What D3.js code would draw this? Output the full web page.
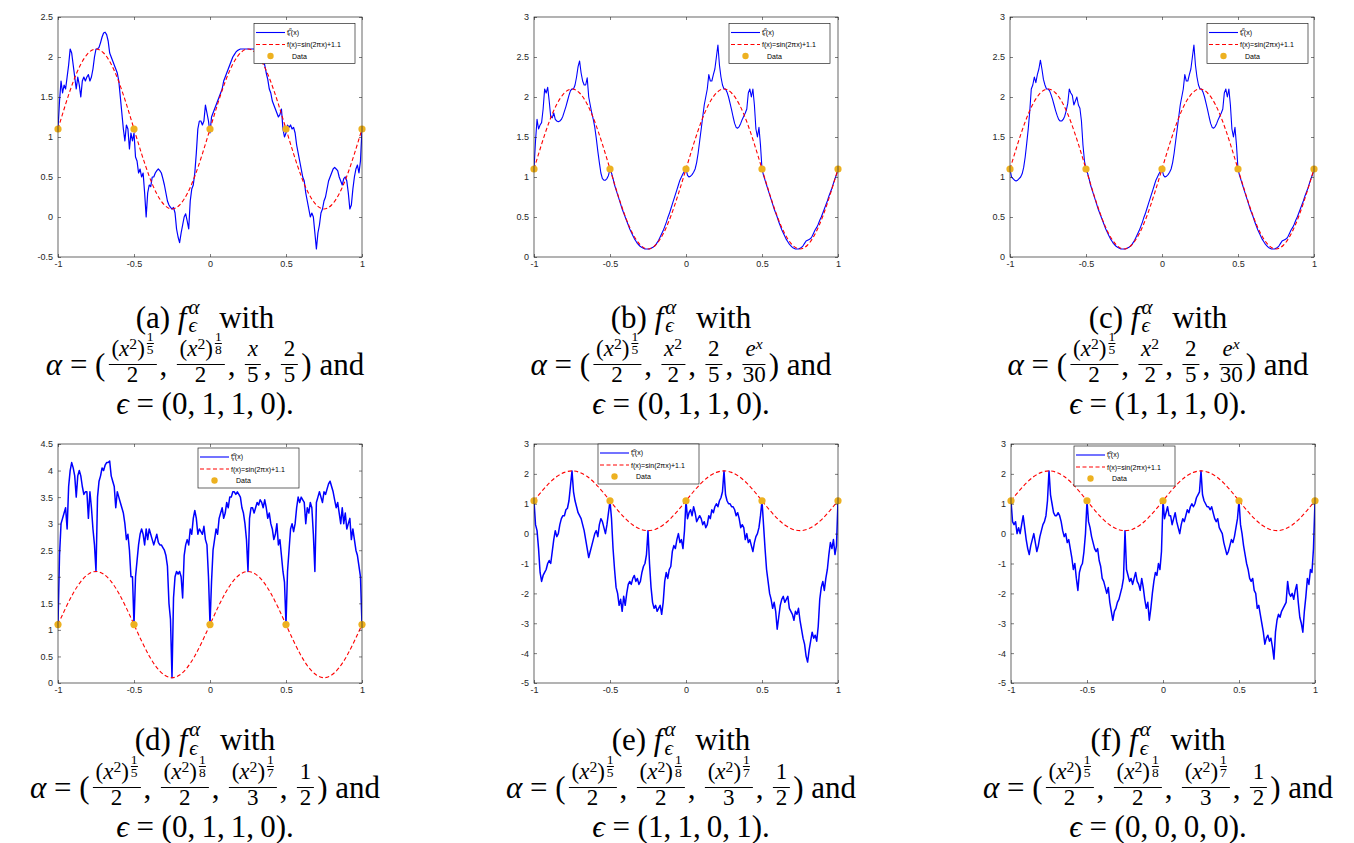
<!DOCTYPE html>
<html>
<head>
<meta charset="utf-8">
<script src="https://cdn.jsdelivr.net/npm/d3@7"></script>
<style>
  body { margin: 0; background: #fff; width: 1354px; height: 843px; overflow: hidden; position: relative; }
  svg { position: absolute; left: 0; top: 0; }
  .cap { position: absolute; transform: translateX(-50%); font-family: "Liberation Serif", serif;
         font-size: 31px; line-height: 31px; white-space: nowrap; color: #000; }
  .cap i { font-style: italic; }
  .bl { display: inline-block; width: 0; height: 0; }
  .fr { display: inline-block; text-align: center; vertical-align: -7px; font-size: 23px; margin: 0 3px; }
  .fr > span { display: block; }
  .fr .nu { line-height: 23px; border-bottom: 1px solid #000; padding: 0 3px 4px; }
  .fr .de { line-height: 19px; }
  .fr sup { font-size: 0.68em; vertical-align: 0.45em; line-height: 0; }
  .sf { display: inline-block; font-size: 13.5px; vertical-align: 2px; margin-left: 2px; text-align: center; }
  .sf > span { display: block; line-height: 12px; }
  .sf > span:first-child { border-bottom: 0.8px solid #000; }
  .ss { display: inline-block; position: relative; width: 16px; height: 0; margin: 0 8px 0 1px; }
  .ss > i { position: absolute; left: 1px; font-size: 21px; line-height: 21px; }
  .ss .up { bottom: 10px; }
  .ss .dn { bottom: -8.5px; }
</style>
</head>
<body>
<script>
// x grid of the blue curves: -1 .. 1 step 0.01 (201 values each)
const blueA = [
  1.1,1.45,1.7,1.55,1.65,1.6,1.75,1.9,2.1,2.05,
  1.9,1.75,1.6,1.75,1.65,1.5,1.7,1.75,1.7,1.75,
  1.78,1.7,1.75,1.85,2.0,2.1,2.1,2.12,2.18,2.25,
  2.3,2.31,2.28,2.2,2.05,2.0,1.95,1.9,1.85,1.8,
  1.7,1.5,1.3,1.1,0.95,1.15,1.1,0.85,1.05,0.95,
  1.05,0.75,0.7,0.55,0.6,0.5,0.55,0.3,0.0,0.3,
  0.4,0.38,0.5,0.5,0.55,0.58,0.6,0.58,0.55,0.48,
  0.4,0.3,0.2,0.15,0.12,0.1,0.12,0.05,-0.15,-0.25,
  -0.32,-0.2,-0.1,0.0,0.04,-0.05,-0.15,0.2,0.35,0.4,
  0.55,0.8,1.1,1.2,1.2,1.15,1.2,1.4,1.3,1.2,
  1.05,1.25,1.3,1.35,1.4,1.45,1.5,1.55,1.6,1.7,
  1.75,1.8,1.85,1.9,1.95,2.0,2.03,2.06,2.08,2.09,
  2.1,2.1,2.1,2.1,2.1,2.1,2.1,2.1,2.1,2.1,
  2.1,2.1,2.08,2.06,2.02,1.95,1.9,1.8,1.72,1.6,
  1.55,1.45,1.4,1.35,1.3,1.25,1.28,1.35,1.1,1.0,
  1.05,1.15,1.12,1.15,1.1,1.12,1.05,0.9,0.8,0.7,
  0.6,0.5,0.45,0.3,0.2,0.1,0.0,0.05,0.0,-0.2,
  -0.4,-0.2,-0.1,0.05,0.1,0.2,0.25,0.35,0.45,0.5,
  0.55,0.6,0.62,0.6,0.58,0.5,0.45,0.4,0.48,0.5,
  0.45,0.3,0.1,0.15,0.35,0.5,0.6,0.65,0.55,0.7,
  1.1
];
const blueB = [
  1.1,1.45,1.72,1.6,1.65,1.68,1.85,2.1,2.05,2.12,
  1.95,1.75,1.74,1.8,1.72,1.7,1.69,1.7,1.72,1.76,
  1.82,1.88,1.95,2.02,2.08,2.1,2.1,2.15,2.25,2.38,
  2.45,2.3,2.2,2.15,2.15,2.24,2.0,1.9,1.8,1.72,
  1.62,1.48,1.32,1.18,1.05,0.98,0.96,0.96,0.98,1.02,
  1.1,1.05,0.98,0.9,0.84,0.78,0.72,0.66,0.6,0.55,
  0.5,0.45,0.4,0.35,0.31,0.27,0.23,0.2,0.17,0.15,
  0.13,0.12,0.11,0.1,0.1,0.1,0.1,0.11,0.12,0.13,
  0.15,0.18,0.21,0.25,0.29,0.33,0.38,0.43,0.49,0.54,
  0.6,0.66,0.72,0.78,0.84,0.9,0.96,1.0,1.04,1.07,
  1.1,1.02,1.0,1.01,1.03,1.06,1.1,1.18,1.3,1.45,
  1.6,1.75,1.9,2.0,2.1,2.28,2.2,2.2,2.28,2.35,
  2.5,2.65,2.4,2.25,2.15,2.1,2.1,2.06,2.0,1.92,
  1.84,1.75,1.67,1.62,1.61,1.63,1.67,1.72,1.76,1.8,
  1.85,2.05,2.1,2.0,2.1,1.9,1.6,1.5,1.62,1.4,
  1.1,1.02,0.96,0.9,0.84,0.78,0.72,0.66,0.6,0.55,
  0.5,0.44,0.39,0.34,0.3,0.26,0.22,0.19,0.16,0.14,
  0.12,0.11,0.1,0.1,0.1,0.11,0.12,0.14,0.17,0.2,
  0.21,0.22,0.23,0.26,0.3,0.34,0.37,0.41,0.46,0.5,
  0.55,0.6,0.65,0.7,0.76,0.81,0.86,0.92,0.98,1.03,
  1.1
];
const blueC = [
  1.1,1.0,0.98,0.96,0.95,0.96,0.98,1.0,1.04,1.12,
  1.25,1.42,1.6,1.82,2.1,2.15,2.25,2.18,2.28,2.35,
  2.46,2.35,2.22,2.15,2.1,2.1,2.08,2.03,1.97,1.9,
  1.83,1.77,1.72,1.7,1.7,1.72,1.76,1.83,1.92,2.1,
  2.05,2.02,1.9,1.95,2.0,1.9,1.86,1.7,1.4,1.2,
  1.1,1.05,0.98,0.9,0.84,0.78,0.72,0.66,0.6,0.55,
  0.5,0.45,0.4,0.35,0.31,0.27,0.23,0.2,0.17,0.15,
  0.13,0.12,0.11,0.1,0.1,0.1,0.1,0.11,0.12,0.13,
  0.15,0.18,0.21,0.25,0.29,0.33,0.38,0.43,0.49,0.54,
  0.6,0.66,0.72,0.78,0.84,0.9,0.96,1.0,1.04,1.07,
  1.1,1.02,1.0,1.01,1.03,1.06,1.1,1.18,1.3,1.45,
  1.6,1.75,1.9,2.0,2.1,2.28,2.2,2.2,2.28,2.35,
  2.5,2.65,2.4,2.25,2.15,2.1,2.1,2.06,2.0,1.92,
  1.84,1.75,1.67,1.62,1.61,1.63,1.67,1.72,1.76,1.8,
  1.85,2.05,2.1,2.0,2.1,1.9,1.6,1.5,1.62,1.4,
  1.1,1.02,0.96,0.9,0.84,0.78,0.72,0.66,0.6,0.55,
  0.5,0.44,0.39,0.34,0.3,0.26,0.22,0.19,0.16,0.14,
  0.12,0.11,0.1,0.1,0.1,0.11,0.12,0.14,0.17,0.2,
  0.21,0.22,0.23,0.26,0.3,0.34,0.37,0.41,0.46,0.5,
  0.55,0.6,0.65,0.7,0.76,0.81,0.86,0.92,0.98,1.03,
  1.1
];
const blueD = [
  1.1,2.4,3.0,3.1,3.2,3.3,2.9,3.7,4.0,4.15,
  4.05,3.9,3.5,3.9,4.0,3.9,3.7,3.55,3.6,3.6,
  3.1,3.6,3.3,2.9,2.6,2.1,3.5,3.8,3.9,4.05,
  4.0,4.1,4.15,4.15,4.18,3.9,3.8,3.7,3.3,3.6,
  3.5,3.4,3.3,3.2,3.0,2.7,2.8,2.5,2.0,2.0,
  1.1,2.0,2.3,2.6,2.8,2.9,2.8,2.6,2.9,2.7,
  2.9,2.8,2.7,2.6,2.7,2.8,2.65,2.6,2.6,2.55,
  2.5,2.4,2.2,1.5,1.2,0.1,1.6,2.0,2.1,2.05,
  2.1,2.0,1.6,2.4,2.6,2.7,2.6,2.9,2.8,3.1,
  3.25,3.1,2.8,2.9,2.85,2.8,2.95,2.7,2.6,2.0,
  1.1,1.9,2.5,2.7,2.9,2.8,3.1,3.2,3.3,3.1,
  3.2,3.4,3.3,3.5,3.5,3.6,3.6,3.55,3.6,3.55,
  3.5,3.3,3.2,3.0,2.7,2.1,3.1,3.3,3.3,3.2,
  3.3,3.4,3.35,3.45,3.4,3.3,3.45,3.3,3.1,3.2,
  3.0,2.9,2.7,2.8,3.0,2.6,2.7,2.4,2.1,1.9,
  1.1,2.1,2.5,2.9,3.0,2.85,3.0,3.3,3.5,3.4,
  3.5,3.45,3.4,3.0,3.3,3.2,3.4,3.3,2.8,2.1,
  3.4,3.5,3.6,3.5,3.4,3.6,3.55,3.65,3.75,3.8,
  3.7,3.6,3.45,3.3,3.4,3.2,3.0,3.3,3.0,3.2,
  2.9,3.0,3.1,2.7,2.9,2.7,2.5,2.4,2.2,2.0,
  1.1
];
const blueE = [
  1.1,0.3,0.1,-0.5,-1.3,-1.6,-1.4,-1.3,-1.2,-1.0,
  -0.9,-1.0,-0.6,-0.2,0.1,-0.1,0.0,0.3,0.5,0.6,
  0.6,0.8,0.85,1.1,1.6,2.1,1.4,1.1,0.9,0.7,
  0.6,0.5,0.3,0.1,-0.2,-0.5,-0.8,-0.6,-0.4,-0.2,
  0.0,0.1,-0.1,0.3,0.5,0.4,0.2,0.0,0.3,0.7,
  1.1,0.5,-0.5,-1.2,-1.8,-2.0,-2.4,-2.2,-2.6,-2.1,
  -2.4,-2.0,-1.7,-1.6,-1.7,-1.5,-1.4,-1.6,-1.5,-1.7,
  -1.6,-1.3,-1.1,-1.0,-0.7,0.1,-1.0,-1.8,-2.3,-2.5,
  -2.4,-2.6,-2.5,-2.4,-2.7,-2.3,-1.6,-1.3,-1.5,-1.2,
  -1.1,-0.6,-0.4,-0.5,-0.2,0.0,-0.3,-0.2,-0.5,0.1,
  1.1,0.5,0.7,0.8,0.6,0.9,0.7,0.4,0.5,0.6,
  0.5,0.3,0.4,0.2,0.3,0.6,0.5,0.8,0.7,0.9,
  1.0,0.9,1.1,1.2,1.4,2.1,1.3,1.1,1.0,1.0,
  0.9,0.9,0.8,0.6,0.7,0.5,0.2,0.3,0.2,-0.2,
  0.0,-0.3,-0.2,-0.4,-0.6,-0.3,-0.1,0.0,0.2,0.6,
  1.1,0.3,-0.5,-1.2,-1.6,-2.0,-2.2,-2.5,-2.3,-2.6,
  -3.2,-2.8,-2.4,-2.2,-2.1,-2.3,-2.2,-2.1,-2.5,-2.6,
  -2.7,-2.9,-2.6,-2.7,-2.5,-2.9,-3.2,-3.5,-3.7,-4.1,
  -4.3,-3.9,-3.6,-3.3,-3.5,-3.4,-3.6,-3.1,-2.2,-1.8,
  -1.6,-1.9,-1.5,-1.2,-0.7,-0.3,-0.5,-0.2,-0.7,-0.4,
  1.1
];
const blueF = [
  1.1,0.4,0.3,0.4,0.0,0.2,0.0,0.3,0.6,0.2,
  -0.2,-0.5,-0.7,-0.4,-0.2,0.0,-0.3,-0.6,-0.4,-0.1,
  0.1,0.3,0.4,0.6,1.1,2.1,1.3,1.0,0.7,0.6,
  0.6,0.7,0.6,0.4,0.1,-0.1,0.0,-0.3,-0.2,-0.5,
  -0.8,-1.2,-1.0,-1.5,-1.9,-1.3,-1.1,-1.0,-0.6,0.0,
  1.1,0.4,0.2,-0.1,-0.3,-0.5,-0.6,-0.5,-0.9,-1.1,
  -1.5,-1.6,-1.8,-2.0,-1.8,-2.3,-2.6,-2.9,-2.6,-2.5,
  -2.3,-2.2,-2.0,-1.8,-1.5,0.1,-1.2,-1.4,-1.6,-1.5,
  -1.7,-1.5,-1.3,-1.6,-1.7,-1.9,-1.5,-1.8,-2.2,-2.5,
  -2.3,-2.9,-2.5,-2.0,-1.6,-1.3,-1.4,-1.0,-1.2,-0.6,
  1.1,0.5,0.7,0.9,0.6,0.6,0.3,0.5,0.7,0.4,
  0.2,0.0,0.3,0.5,0.4,0.6,0.8,0.7,0.9,1.0,
  0.9,1.0,1.2,1.3,1.4,2.1,1.3,1.1,1.0,0.9,
  0.9,0.8,0.9,0.7,0.5,0.4,0.5,0.2,0.1,0.0,
  -0.3,-0.5,-0.7,-0.6,-0.4,-0.2,-0.3,-0.1,0.2,0.5,
  1.1,0.3,0.0,-0.4,-0.7,-1.0,-1.2,-1.5,-1.6,-1.5,
  -1.9,-2.0,-2.5,-2.4,-2.7,-3.0,-3.3,-3.7,-3.5,-3.4,
  -3.6,-3.5,-3.8,-4.2,-3.3,-2.9,-2.7,-2.8,-2.6,-2.5,
  -2.4,-2.3,-1.6,-2.0,-2.1,-2.0,-2.2,-1.9,-1.7,-2.3,
  -2.8,-3.0,-3.3,-2.6,-2.1,-1.5,-1.7,-1.2,-1.3,-0.5,
  1.1
];

// red dashed target curve, read every 0.05 from -1 to 1
const redY = [1.1,1.41,1.69,1.91,2.05,2.1,2.05,1.91,1.69,1.41,
              1.1,0.79,0.51,0.29,0.15,0.1,0.15,0.29,0.51,0.79,
              1.1,1.41,1.69,1.91,2.05,2.1,2.05,1.91,1.69,1.41,
              1.1,0.79,0.51,0.29,0.15,0.1,0.15,0.29,0.51,0.79,1.1];

const dataX = [-1, -0.5, 0, 0.5, 1];
const dataY = [1.1, 1.1, 1.1, 1.1, 1.1];

const xTicks = [-1, -0.5, 0, 0.5, 1];
const yTicksA = [-0.5, 0, 0.5, 1, 1.5, 2, 2.5];
const yTicksB = [0, 0.5, 1, 1.5, 2, 2.5, 3];
const yTicksD = [0, 0.5, 1, 1.5, 2, 2.5, 3, 3.5, 4, 4.5];
const yTicksE = [-5, -4, -3, -2, -1, 0, 1, 2, 3];

const labels = ['(a)', '(b)', '(c)', '(d)', '(e)', '(f)'];
const epsilons = ['(0, 1, 1, 0).', '(0, 1, 1, 0).', '(1, 1, 1, 0).', '(0, 1, 1, 0).', '(1, 1, 0, 1).', '(0, 0, 0, 0).'];

const panels = [
  { blue: blueA, yDom: [-0.5, 2.5], yTicks: yTicksA, left: 58,   top: 17,  h: 240, lw: 1.2, leg: [196, 6.5] },
  { blue: blueB, yDom: [0, 3],      yTicks: yTicksB, left: 534,  top: 17,  h: 240, lw: 1.1, leg: [195, 6.5] },
  { blue: blueC, yDom: [0, 3],      yTicks: yTicksB, left: 1010, top: 17,  h: 240, lw: 1.1, leg: [197, 6.5] },
  { blue: blueD, yDom: [0, 4.5],    yTicks: yTicksD, left: 58,   top: 444, h: 239, lw: 1.5, leg: [140, 4] },
  { blue: blueE, yDom: [-5, 3],     yTicks: yTicksE, left: 534,  top: 444, h: 239, lw: 1.5, leg: [64, 0] },
  { blue: blueF, yDom: [-5, 3],     yTicks: yTicksE, left: 1011, top: 444, h: 239, lw: 1.5, leg: [63, 2] }
];
const W = 304;

const svg = d3.select('body').append('svg').attr('width', 1354).attr('height', 843);
const fmt = d => String(d);
const axisCol = '#262626';

panels.forEach((p, k) => {
  const g = svg.append('g').attr('transform', `translate(${p.left},${p.top})`);
  const x = d3.scaleLinear().domain([-1, 1]).range([0, W]);
  const y = d3.scaleLinear().domain(p.yDom).range([p.h, 0]);

  g.append('clipPath').attr('id', 'clip' + k)
    .append('rect').attr('width', W).attr('height', p.h);

  const plot = g.append('g').attr('clip-path', `url(#clip${k})`);

  // blue fractal curve
  plot.append('path')
    .datum(p.blue)
    .attr('fill', 'none')
    .attr('stroke', '#0000ff')
    .attr('stroke-width', p.lw)
    .attr('stroke-linejoin', 'round')
    .attr('d', d3.line().x((d, i) => x(-1 + i * 0.01)).y(d => y(d)));

  // red dashed sine
  plot.append('path')
    .datum(redY)
    .attr('fill', 'none')
    .attr('stroke', '#ff0000')
    .attr('stroke-width', 1.1)
    .attr('stroke-dasharray', '4,2.5')
    .attr('d', d3.line().curve(d3.curveNatural).x((d, i) => x(-1 + i * 0.05)).y(d => y(d)));

  // data points
  g.selectAll('.dot').data(dataX).enter().append('circle')
    .attr('cx', d => x(d))
    .attr('cy', (d, i) => y(dataY[i]))
    .attr('r', 3.6)
    .attr('fill', '#edb120');

  // axes, ticks inside on all four sides
  const ax = (gen, tx, ty, lab) => {
    const a = g.append('g').attr('transform', `translate(${tx},${ty})`).call(gen);
    a.select('.domain').remove();
    a.selectAll('line').attr('stroke', axisCol).attr('stroke-width', 0.6);
    a.selectAll('text').attr('fill', axisCol).style('font-family', 'Liberation Sans, Arial, sans-serif').style('font-size', '9px');
    if (!lab) a.selectAll('text').remove();
  };
  ax(d3.axisBottom(x).tickValues(xTicks).tickSize(-3).tickPadding(4).tickFormat(fmt), 0, p.h, true);
  ax(d3.axisTop(x).tickValues(xTicks).tickSize(-3).tickFormat(''), 0, 0, false);
  ax(d3.axisLeft(y).tickValues(p.yTicks).tickSize(-3).tickPadding(5).tickFormat(fmt), 0, 0, true);
  ax(d3.axisRight(y).tickValues(p.yTicks).tickSize(-3).tickFormat(''), W, 0, false);

  g.append('rect').attr('width', W).attr('height', p.h)
    .attr('fill', 'none').attr('stroke', axisCol).attr('stroke-width', 0.7);

  // legend
  const lg = g.append('g').attr('transform', `translate(${p.leg[0]},${p.leg[1]})`)
    .style('font-family', 'Liberation Sans, Arial, sans-serif').style('font-size', '7px');
  lg.append('rect').attr('width', 101).attr('height', 40)
    .attr('fill', '#fff').attr('stroke', axisCol).attr('stroke-width', 0.7);
  lg.append('line').attr('x1', 2).attr('x2', 31).attr('y1', 9).attr('y2', 9)
    .attr('stroke', '#0000ff').attr('stroke-width', 1.1);
  lg.append('line').attr('x1', 2).attr('x2', 31).attr('y1', 21).attr('y2', 21)
    .attr('stroke', '#ff0000').attr('stroke-width', 1.1).attr('stroke-dasharray', '4,2.5');
  lg.append('circle').attr('cx', 16.5).attr('cy', 32.5).attr('r', 3.2).attr('fill', '#edb120');
  const t1 = lg.append('text').attr('x', 33).attr('y', 11).attr('fill', '#000');
  t1.append('tspan').text('f');
  t1.append('tspan').attr('font-size', '4.5px').attr('dy', -3.4).text('α');
  t1.append('tspan').attr('font-size', '4.5px').attr('dx', -3.3).attr('dy', 5.2).text('ϵ');
  t1.append('tspan').attr('dy', -1.8).attr('dx', 0.6).text('(x)');
  lg.append('text').attr('x', 33).attr('y', 23.5).attr('fill', '#000').text('f(x)=sin(2πx)+1.1');
  lg.append('text').attr('x', 38).attr('y', 35).attr('fill', '#000').text('Data');
});

// captions
const pw = (p, q) => `(<i>x</i><sup>2</sup>)<span class="sf"><span>${p}</span><span>${q}</span></span>`;
const fr = (n, d) => `<span class="fr"><span class="nu">${n}</span><span class="de">${d}</span></span>`;
const alphaSets = [
  [fr(pw(1, 5), 2), fr(pw(1, 8), 2), fr('<i>x</i>', 5), fr(2, 5)],
  [fr(pw(1, 5), 2), fr('<i>x</i><sup>2</sup>', 2), fr(2, 5), fr('<i>e<sup>x</sup></i>', 30)],
  [fr(pw(1, 5), 2), fr('<i>x</i><sup>2</sup>', 2), fr(2, 5), fr('<i>e<sup>x</sup></i>', 30)],
  [fr(pw(1, 5), 2), fr(pw(1, 8), 2), fr(pw(1, 7), 3), fr(1, 2)],
  [fr(pw(1, 5), 2), fr(pw(1, 8), 2), fr(pw(1, 7), 3), fr(1, 2)],
  [fr(pw(1, 5), 2), fr(pw(1, 8), 2), fr(pw(1, 7), 3), fr(1, 2)]
];
const capX = [205, 681, 1158];
const capBase = [[327.5, 375, 414], [750, 798, 837]];

labels.forEach((lab, k) => {
  const cx = capX[k % 3], base = capBase[Math.floor(k / 3)];
  const line = (html, bl) => {
    const div = d3.select('body').append('div').attr('class', 'cap')
      .style('left', cx + 'px').style('top', '0px')
      .html(html + '<span class="bl"></span>');
    const m = div.node().querySelector('.bl').getBoundingClientRect().top;
    div.style('top', (bl - m) + 'px');
  };
  line(`${lab} <i>f</i><span class="ss"><i class="up">α</i><i class="dn">ϵ</i></span> with`, base[0]);
  line(`<i>α</i> = (${alphaSets[k].join(',&thinsp;')}) and`, base[1]);
  line(`<i>ϵ</i> = ${epsilons[k].replace(/, /g, ',&thinsp;')}`, base[2]);
});
</script>
</body>
</html>
